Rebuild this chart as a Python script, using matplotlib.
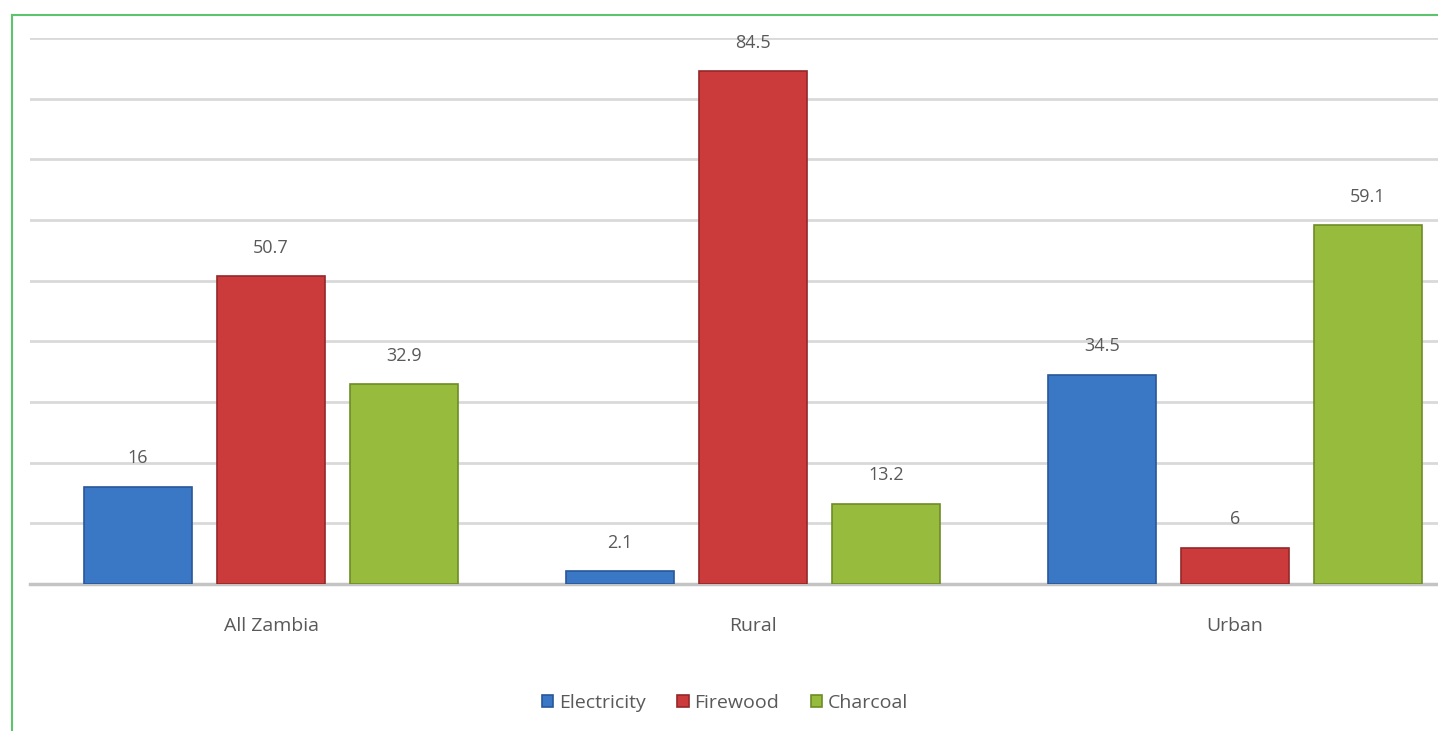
import matplotlib.pyplot as plt
from matplotlib.lines import Line2D
import numpy as np

categories = ['All Zambia', 'Rural', 'Urban']
series_names = ['Electricity', 'Firewood', 'Charcoal']
electricity = [16, 2.1, 34.5]
firewood = [50.7, 84.5, 6]
charcoal = [32.9, 13.2, 59.1]
value_labels = [['16', '2.1', '34.5'], ['50.7', '84.5', '6'], ['32.9', '13.2', '59.1']]

colors = ['#3a78c6', '#cc3b3b', '#97bb3d']
edges = ['#28579a', '#952828', '#6e8c26']

plt.rcParams['font.family'] = ['Open Sans', 'DejaVu Sans']
txt = '#595959'

fig = plt.figure(figsize=(14.38, 7.31), dpi=100)
fig.patch.set_facecolor('white')
ax = fig.add_axes([30 / 1438, 1 - 584 / 731, 1446 / 1438, 546 / 731])

x = np.arange(len(categories))
w = 0.226
offsets = [-0.276, 0, 0.276]
for i, vals in enumerate([electricity, firewood, charcoal]):
    bars = ax.bar(x + offsets[i], vals, w, color=colors[i], edgecolor=edges[i],
                  linewidth=1.2, label=series_names[i], zorder=3)
    for b, lab in zip(bars, value_labels[i]):
        ax.annotate(lab, (b.get_x() + b.get_width() / 2, b.get_height()),
                    xytext=(0, 14), textcoords='offset points', ha='center', va='bottom',
                    fontsize=13, color=txt)

ax.set_xlim(-0.5, 2.5)
ax.set_ylim(0, 90)
ax.set_yticks(np.arange(0, 91, 10))
ax.set_yticklabels([])
ax.yaxis.grid(True, color='#d9d9d9', linewidth=2, zorder=0)
ax.axhline(0, color='#c4c4c4', linewidth=2.5, zorder=2, clip_on=False)
ax.tick_params(axis='y', length=0)
ax.set_xticks(x)
ax.set_xticklabels(categories, fontsize=14, color=txt)
ax.tick_params(axis='x', length=0, pad=24)
for s in ax.spines.values():
    s.set_visible(False)
ax.set_facecolor('white')

fig.legend(loc='center', bbox_to_anchor=(725 / 1438, 1 - 703 / 731), ncol=3, frameon=False,
           fontsize=14, handlelength=0.6, handleheight=0.6, handletextpad=0.3,
           columnspacing=1.6, labelcolor=txt)

# green frame (top and left edges visible)
fig.add_artist(Line2D([12 / 1438, 12 / 1438], [0, 1 - 15 / 731], color='#5cc46c', linewidth=1.5))
fig.add_artist(Line2D([12 / 1438, 1], [1 - 15 / 731, 1 - 15 / 731], color='#5cc46c', linewidth=1.5))

fig.savefig('out.png', dpi=100)
